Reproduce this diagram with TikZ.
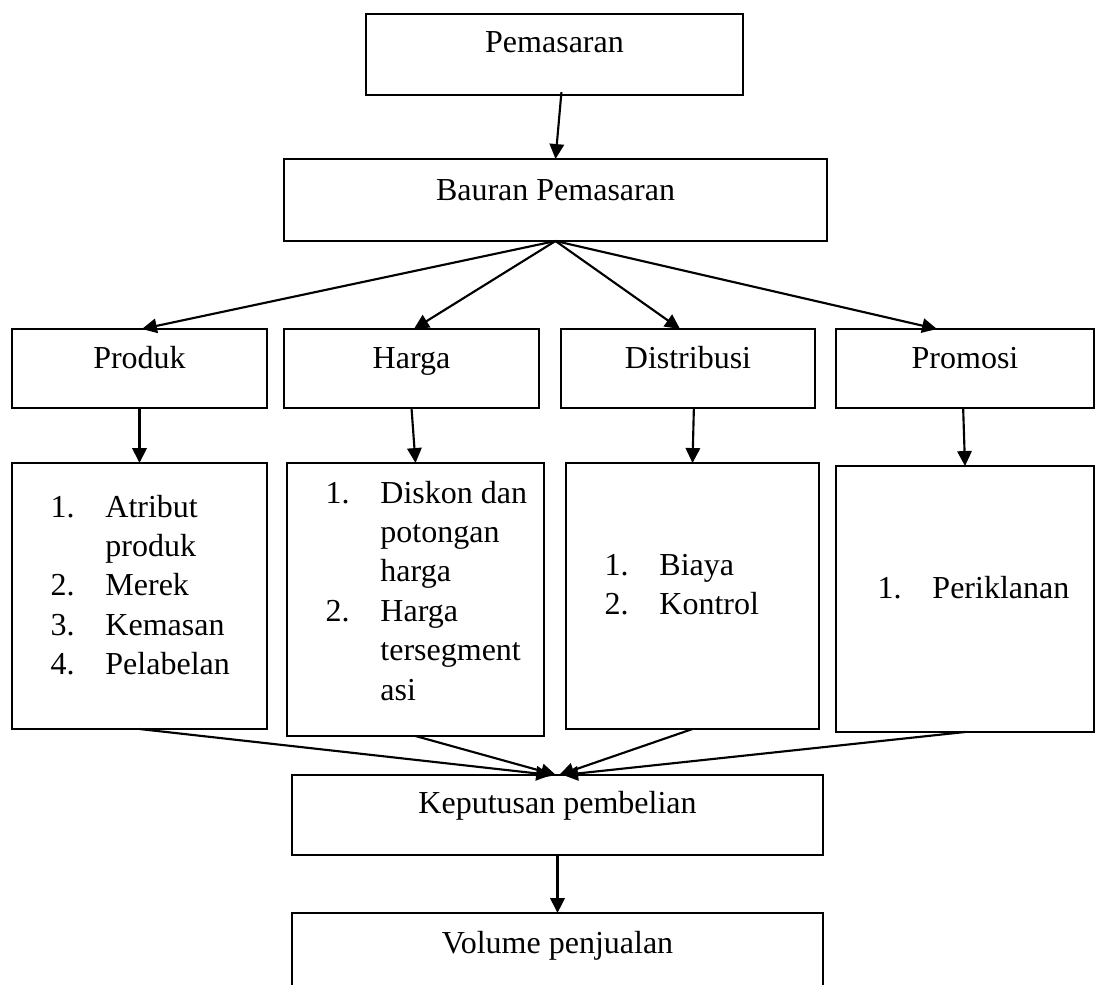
\documentclass[tikz,border=0pt]{standalone}
\usepackage{fontspec}
\setmainfont{Liberation Serif}
\usetikzlibrary{arrows.meta}
\tikzset{
  kotak/.style 2 args={draw, line width=0.8pt, inner sep=0pt, outer sep=0pt,
    minimum width=#1*0.375pt, minimum height=#2*0.375pt},
  teks/.style={inner sep=0pt, anchor=base, font=\fontsize{12}{14.8}\selectfont},
  daftar/.style={inner sep=0pt, anchor=base west, font=\fontsize{12}{14.8}\selectfont},
  panah/.style={line width=0.8pt, -{Triangle[length=5.6pt,width=5.4pt]}}
}
\newcommand{\butir}[1]{\begin{tabular}[t]{@{}p{20.6pt}@{}l@{}}#1\end{tabular}}
\begin{document}
\begin{tikzpicture}[x=0.375pt,y=-0.375pt]
  \useasboundingbox (0,0) rectangle (1096,984);
  \node[kotak={377}{81}] (pemasaran) at (554.5,54.5) {};
  \node[kotak={543}{82}] (bauran) at (555.5,200) {};
  \node[kotak={255}{79}] (produk) at (139.5,368.5) {};
  \node[kotak={255}{79}] (harga) at (411.5,368.5) {};
  \node[kotak={254}{79}] (distribusi) at (688,368.5) {};
  \node[kotak={258}{79}] (promosi) at (965,368.5) {};
  \node[kotak={255}{266}] (isiProduk) at (139.5,596) {};
  \node[kotak={257}{273}] (isiHarga) at (415.5,599.5) {};
  \node[kotak={253}{266}] (isiDistribusi) at (692.5,596) {};
  \node[kotak={258}{266}] (isiPromosi) at (965,599) {};
  \node[kotak={531}{80}] (keputusan) at (557.5,815) {};
  \node[kotak={531}{77}] (volume) at (557.5,951.5) {};

  \node[teks] (tPemasaran) at (554.5,53) {Pemasaran};
  \node[teks] (tBauran) at (555.5,200) {Bauran Pemasaran};
  \node[teks] (tProduk) at (139.5,368) {Produk};  \node[teks] (tHarga) at (411.5,368) {Harga};
  \node[teks] (tDistribusi) at (688,368) {Distribusi}; \node[teks] (tPromosi) at (965,368) {Promosi};
  \node[teks] (tKeputusan) at (557.5,813) {Keputusan pembelian};
  \node[teks] (tVolume) at (557.5,953) {Volume penjualan};

  \node[daftar] (lProduk) at (50,517) {\butir{1. & Atribut\\ & produk\\ 2. & Merek\\ 3. & Kemasan\\ 4. & Pelabelan}};
  \node[daftar] (lHarga) at (325,503) {\butir{1. & Diskon dan\\ & potongan\\ & harga\\ 2. & Harga\\ & tersegment\\ & asi}};
  \node[daftar] (lDistribusi) at (604,575) {\butir{1. & Biaya\\ 2. & Kontrol}};
  \node[daftar] (lPromosi) at (877,598) {\butir{1. & Periklanan}};

  \draw[panah] ([xshift=2.6pt,yshift=1.1pt]pemasaran.south) -- (bauran.north);
  \draw[panah] (bauran.south) -- ([xshift=0.9pt]produk.north);
  \draw[panah] (bauran.south) -- ([xshift=0.9pt]harga.north);
  \draw[panah] (bauran.south) -- ([xshift=-3pt]distribusi.north);
  \draw[panah] (bauran.south) -- ([xshift=-10.5pt]promosi.north);
  \draw[panah] (produk.south) -- (isiProduk.north);
  \draw[panah] (harga.south) -- (isiHarga.north);
  \draw[panah] ([xshift=2.2pt]distribusi.south) -- (isiDistribusi.north);
  \draw[panah] ([xshift=-0.7pt]promosi.south) -- (isiPromosi.north);
  \draw[panah] (isiProduk.south) -- ([xshift=-2.4pt]keputusan.north);
  \draw[panah] (isiHarga.south) -- ([xshift=-0.6pt]keputusan.north);
  \draw[panah] (isiDistribusi.south) -- ([xshift=0.6pt]keputusan.north);
  \draw[panah] (isiPromosi.south) -- ([xshift=2.1pt]keputusan.north);
  \draw[panah] (keputusan.south) -- (volume.north);
\end{tikzpicture}
\end{document}
